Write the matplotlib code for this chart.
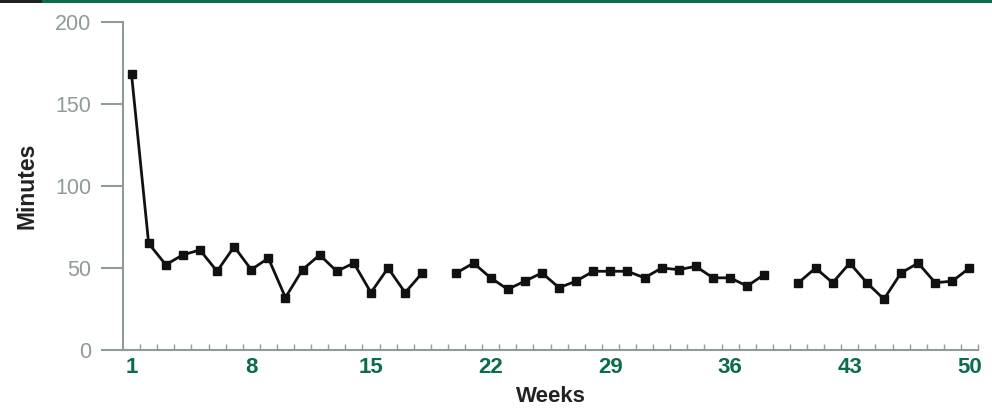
import numpy as np
import matplotlib
matplotlib.use('Agg')
import matplotlib.pyplot as plt
from matplotlib.ticker import FixedLocator

# weekly minutes, weeks 19 and 39 missing
weeks = list(range(1, 51))
minutes = [168, 65, 52, 58, 61, 48, 63, 49, 56, 32,
           49, 58, 48, 53, 35, 50, 35, 47, np.nan, 47,
           53, 44, 37, 42, 47, 38, 42, 48, 48, 48,
           44, 50, 49, 51, 44, 44, 39, 46, np.nan, 41,
           50, 41, 53, 41, 31, 47, 53, 41, 42, 50]
week_labels = [1, 8, 15, 22, 29, 36, 43, 50]
y_ticks = [0, 50, 100, 150, 200]

green = '#0b6b4e'
axis_grey = '#8c9c9c'

plt.rcParams['font.family'] = ['Liberation Sans', 'DejaVu Sans']

fig = plt.figure(figsize=(9.92, 4.12), dpi=100)
ax = fig.add_axes([123/992, 1 - 350/412, (978 - 123)/992, (350 - 22)/412])

ax.plot(weeks, minutes, color='#111111', lw=2, marker='s', ms=5.5,
        markerfacecolor='#111111', markeredgecolor='#111111')

ax.set_xlim(0.5, 50.5)
ax.set_ylim(0, 200)

for side in ['top', 'right']:
    ax.spines[side].set_visible(False)
for side in ['left', 'bottom']:
    ax.spines[side].set_color(axis_grey)
    ax.spines[side].set_linewidth(1.5)

ax.set_yticks(y_ticks)
ax.tick_params(axis='y', length=16, width=1.5, color=axis_grey, pad=7,
               labelsize=15.5, labelcolor='#8f9a9a', direction='out')

ax.set_xticks(week_labels)
ax.xaxis.set_minor_locator(FixedLocator(np.arange(1.5, 51, 1)))
ax.tick_params(axis='x', which='major', length=0, pad=5, labelsize=16,
               labelcolor=green)
ax.tick_params(axis='x', which='minor', length=4, width=1, color=axis_grey,
               direction='in')
for lab in ax.get_xticklabels():
    lab.set_fontweight('bold')

ax.set_xlabel('Weeks', fontsize=16, fontweight='bold', color='#222222', labelpad=6)
ax.set_ylabel('Minutes', fontsize=16.5, fontweight='bold', color='#222222', labelpad=12)

# top rule
fig.add_artist(plt.Rectangle((0, 1 - 3/412), 1, 3/412, transform=fig.transFigure,
                             color=green, lw=0))
fig.add_artist(plt.Rectangle((0, 1 - 3/412), 42/992, 3/412, transform=fig.transFigure,
                             color='#222222', lw=0))

fig.savefig('out.png', dpi=100)
